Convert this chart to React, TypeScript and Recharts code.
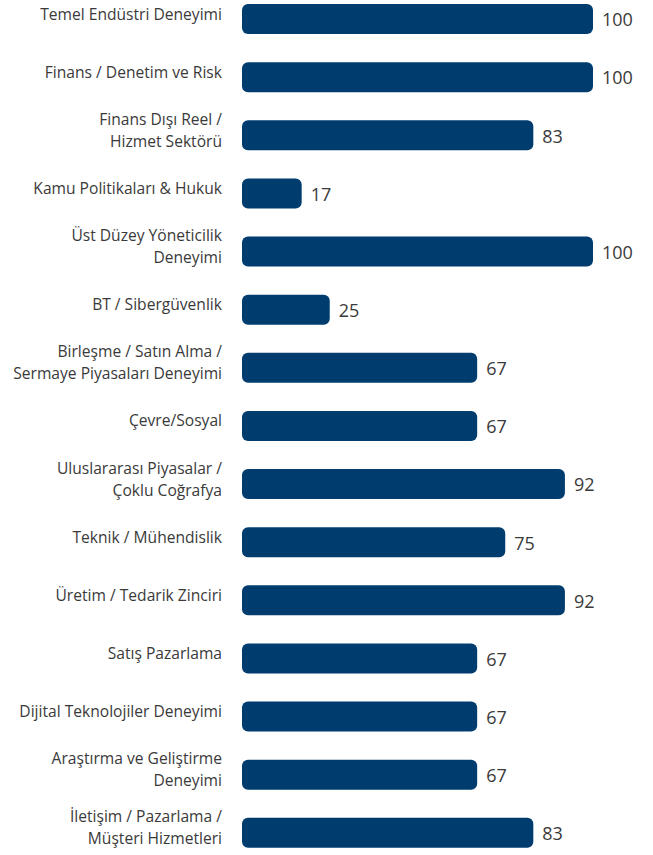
import React from 'react';
import { BarChart, Bar, XAxis, YAxis, LabelList } from 'recharts';

// category labels, '\n' marks the line break used in the original
const categories = [
    'Temel Endüstri Deneyimi',
    'Finans / Denetim ve Risk',
    'Finans Dışı Reel /\nHizmet Sektörü',
    'Kamu Politikaları & Hukuk',
    'Üst Düzey Yöneticilik\nDeneyimi',
    'BT / Sibergüvenlik',
    'Birleşme / Satın Alma /\nSermaye Piyasaları Deneyimi',
    'Çevre/Sosyal',
    'Uluslararası Piyasalar /\nÇoklu Coğrafya',
    'Teknik / Mühendislik',
    'Üretim / Tedarik Zinciri',
    'Satış Pazarlama',
    'Dijital Teknolojiler Deneyimi',
    'Araştırma ve Geliştirme\nDeneyimi',
    'İletişim / Pazarlama /\nMüşteri Hizmetleri',
];

const values = [100, 100, 83, 17, 100, 25, 67, 67, 92, 75, 92, 67, 67, 67, 83];

const chartData = categories.map((name, i) => ({ name, value: values[i] }));

const FONT = '"Open Sans", "Noto Sans", sans-serif';

const CategoryTick = (props: any) => {
    const { x, y, payload } = props;
    const lines = String(payload.value).split('\n');
    const lineH = 22;
    const startY = y - 5 - ((lines.length - 1) * lineH) / 2;
    return (
        <text x={x} y={startY} textAnchor="end" fill="#3a3a3a" fontFamily={FONT} fontSize={15.6}>
            {lines.map((l, i) => (
                <tspan key={i} x={x} y={startY + i * lineH} dy="0.35em">{l}</tspan>
            ))}
        </text>
    );
};

const ValueLabel = (props: any) => {
    const { x, y, width, height, value } = props;
    return (
        <text x={x + width + 9} y={y + height / 2 + 1} dy="0.35em" fill="#3a3a3a" fontFamily={FONT} fontSize={18}>
            {value}
        </text>
    );
};

const App: React.FC = () => (
    <div style={{ position: 'absolute', left: 0, top: -10 }}>
        <BarChart
            width={653}
            height={872}
            data={chartData}
            layout="vertical"
            margin={{ top: 0, right: 60, bottom: 0, left: 0 }}
            barCategoryGap={0}
        >
            <XAxis type="number" domain={[0, 100]} hide />
            <YAxis
                type="category"
                dataKey="name"
                width={242}
                axisLine={false}
                tickLine={false}
                tickMargin={14}
                tick={<CategoryTick />}
                interval={0}
            />
            <Bar dataKey="value" fill="#003D6E" barSize={30} radius={6} isAnimationActive={false}>
                <LabelList dataKey="value" content={<ValueLabel />} />
            </Bar>
        </BarChart>
    </div>
);

export default App;
